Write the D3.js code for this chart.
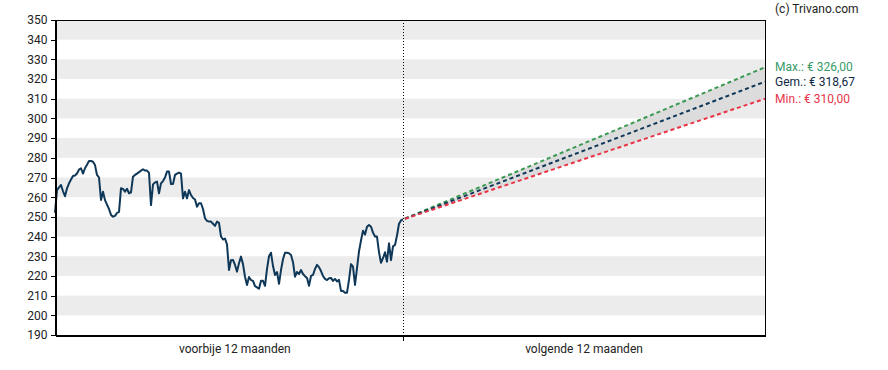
<!DOCTYPE HTML>
<html>
<head>
<meta http-equiv="Content-Type" content="text/html; charset=utf-8">
<title>Trivano koersverwachting</title>
<style>
	body { margin:0; background:#fff; }
	text { font-family: Roboto, "Noto Sans", sans-serif; }
	.axis text { font-size:12px; fill:#222; }
	.axis path, .axis line { stroke:#000; shape-rendering:crispEdges; }
	.periodLabel { font-size:12px; fill:#222; text-anchor:middle; }
	.copyright { font-size:12px; fill:#222; }
	.targetLabel { font-size:12px; }
</style>
<script src="https://cdn.jsdelivr.net/npm/d3@7"></script>
</head>
<body>
<script>
// koers afgelopen 12 maanden (gelijk verdeelde waarnemingen)
var prices = [
	252, 263.6, 265, 266.2, 263, 260.5, 264.5, 267, 269, 270.8,
	271, 272, 274, 274.7, 272, 274.7, 276.5, 278.4, 278.4, 278,
	276.3, 271.3, 270, 258.6, 262.8, 258.5, 256.2, 254, 251, 250.1,
	250.5, 252, 252.5, 264.5, 264.2, 262.8, 264.3, 262, 262.5, 270.4,
	271.3, 272, 272.7, 273.5, 274.2, 273.5, 273.5, 272.3, 256, 266.5,
	267.5, 267.9, 262, 267, 268.2, 270, 273, 273, 266.7, 266.7,
	271.3, 272, 272.5, 272, 259.4, 262.8, 259.4, 263.6, 261.1, 259.6,
	258.8, 255.2, 256.9, 256.9, 254, 249.3, 248, 247.6, 247.6, 246.5,
	245.4, 247.6, 247, 240, 238.5, 239, 236, 223, 228, 228.1,
	225.6, 222.2, 226.4, 229.8, 226, 219.6, 215.4, 219.5, 217.9, 217.5,
	214.8, 214.2, 213.5, 217.5, 217.5, 215, 223.5, 230, 231.8, 225,
	220.5, 222, 216, 223, 228.5, 231.8, 231.8, 231.5, 230.6, 227,
	219.6, 222, 221, 223, 221, 219.9, 219, 215, 220, 220.5,
	223.5, 225.6, 224.5, 222.5, 220, 218.5, 217.9, 218.8, 219, 217.5,
	218.5, 217.2, 218, 212.4, 212.4, 211.5, 211.5, 218, 226, 224.7,
	215.4, 224, 232.5, 238, 243, 241, 245, 245.9, 245, 242,
	240, 240, 232, 226.7, 229, 232, 227.2, 236.6, 228, 235,
	235.7, 240.5, 246.5, 248.2, 248.7
];

// koersdoelen over 12 maanden
var targetNames = ["Max.", "Gem.", "Min."];
var targetValues = [326.00, 318.67, 310.00];

var periodLabels = ["voorbije 12 maanden", "volgende 12 maanden"];
var yTicks = d3.range(190, 351, 10);

var width = 888, height = 370;
var padding = {top:20, right:123, bottom:35, left:55};
var colors = {line:"#0f3858", max:"#3a9952", avg:"#0f3858", min:"#ea3446",
	maxText:"#3a9a6a", avgText:"#0f2a45", minText:"#e8344a"};

var svg = d3.select("body").append("svg").attr("width", width).attr("height", height);

// x in maanden: 0-12 verleden, 12-24 toekomst
var xScale = d3.scaleLinear()
	.domain([0, 12, 24])
	.range([padding.left, 403, width - padding.right]);
var yScale = d3.scaleLinear()
	.domain([190, 350])
	.range([height - padding.bottom, padding.top]);

var x0 = xScale(0), x1 = xScale(24);

// grijze banden
svg.append("g").selectAll("rect")
	.data(yTicks.filter(function(d){ return d >= 200 && d < 350 && (d / 10) % 2 == 0; }))
	.enter().append("rect")
	.attr("x", x0)
	.attr("width", x1 - x0)
	.attr("y", function(d){ return yScale(d + 10); })
	.attr("height", function(d){ return yScale(d) - yScale(d + 10); })
	.attr("fill", "#ececec");

// band tussen min en max verwachting
var last = prices[prices.length - 1];
var area = d3.area()
	.x(function(d){ return xScale(d[0]); })
	.y0(function(d){ return yScale(d[1]); })
	.y1(function(d){ return yScale(d[2]); });
svg.append("path")
	.attr("d", area([[12, last, last], [24, targetValues[2], targetValues[0]]]))
	.attr("fill", "#dcdcdc");

// scheidingslijn nu
svg.append("line")
	.attr("x1", xScale(12)).attr("x2", xScale(12))
	.attr("y1", yScale(350)).attr("y2", yScale(190))
	.attr("stroke", "#000")
	.attr("stroke-width", 1)
	.style("stroke-dasharray", "1 2")
	.style("shape-rendering", "crispEdges");

// verwachtingslijnen
var line = d3.line()
	.x(function(d){ return xScale(d[0]); })
	.y(function(d){ return yScale(d[1]); });
var targetColors = [colors.max, colors.avg, colors.min];
svg.append("g").selectAll("path")
	.data(targetValues)
	.enter().append("path")
	.attr("d", function(d){ return line([[12, last], [24, d]]); })
	.attr("fill", "none")
	.attr("stroke", function(d, i){ return targetColors[i]; })
	.attr("stroke-width", 2)
	.style("stroke-dasharray", "4 3")
	.style("stroke-dashoffset", 5);

// koerslijn
svg.append("path")
	.attr("d", line(prices.map(function(p, i){ return [i * 12 / (prices.length - 1), p]; })))
	.attr("fill", "none")
	.attr("stroke", colors.line)
	.attr("stroke-width", 2)
	.attr("stroke-linejoin", "round");

// kader
svg.append("rect")
	.attr("x", x0 + 0.5).attr("y", yScale(350) + 0.5)
	.attr("width", x1 - x0).attr("height", yScale(190) - yScale(350))
	.attr("fill", "none")
	.attr("stroke", "#000");

var yAxis = d3.axisLeft(yScale).tickValues(yTicks).tickSize(5).tickPadding(3).tickSizeOuter(0);
svg.append("g")
	.attr("class", "axis")
	.attr("transform", "translate(" + (x0 + 0.5) + ",0)")
	.call(yAxis);

var xAxis = d3.axisBottom(xScale).tickValues([12]).tickSize(5).tickFormat("").tickSizeOuter(0);
svg.append("g")
	.attr("class", "axis")
	.attr("transform", "translate(0," + (yScale(190) + 0.5) + ")")
	.call(xAxis);

svg.selectAll(".periodLabel")
	.data(periodLabels)
	.enter().append("text")
	.attr("class", "periodLabel")
	.attr("x", function(d, i){ return xScale(i == 0 ? 6.2 : 18); })
	.attr("y", yScale(190) + 18)
	.text(function(d){ return d; });

// labels rechts
var fmt = d3.format(".2f");
var targetTextColors = [colors.maxText, colors.avgText, colors.minText];
svg.selectAll(".targetLabel")
	.data(targetValues)
	.enter().append("text")
	.attr("class", "targetLabel")
	.attr("x", x1 + 10)
	.attr("y", function(d){ return yScale(d); })
	.attr("dy", "0.35em")
	.attr("fill", function(d, i){ return targetTextColors[i]; })
	.text(function(d, i){ return targetNames[i] + ": € " + fmt(d).replace(".", ","); });

svg.append("text")
	.attr("class", "copyright")
	.attr("x", x1 + 10)
	.attr("y", 13)
	.text("(c) Trivano.com");
</script>
</body>
</html>
